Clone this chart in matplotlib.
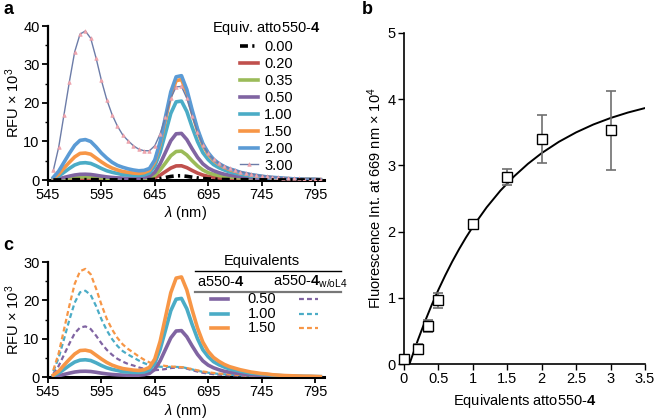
import matplotlib
matplotlib.use("Agg")
import matplotlib.pyplot as plt
from matplotlib.lines import Line2D
from matplotlib.ticker import MultipleLocator

plt.rcParams['font.family'] = ['Liberation Sans', 'DejaVu Sans']
plt.rcParams['mathtext.fontset'] = 'custom'
plt.rcParams['mathtext.rm'] = 'Liberation Sans'
plt.rcParams['mathtext.it'] = 'Liberation Sans:italic'
plt.rcParams['mathtext.bf'] = 'Liberation Sans:bold'

# ---------------- data ----------------
wavelength = [550, 555, 560, 565, 570, 575, 580, 585, 590, 595, 600, 605, 610, 615, 620, 625,
              630, 635, 640, 645, 650, 655, 660, 665, 670, 675, 680, 685, 690, 695, 700, 705,
              710, 715, 720, 725, 730, 735, 740, 745, 750, 755, 760, 765, 770, 775, 780, 785,
              790, 795, 800]

eq_000 = [0.01, 0.02, 0.04, 0.07, 0.09, 0.1, 0.1, 0.1, 0.08, 0.07, 0.05, 0.04, 0.04, 0.03, 0.03, 0.03,
          0.04, 0.05, 0.08, 0.18, 0.37, 0.65, 0.92, 1.09, 1.1, 0.95, 0.73, 0.53, 0.38, 0.28, 0.21, 0.17,
          0.13, 0.11, 0.09, 0.08, 0.07, 0.05, 0.04, 0.04, 0.03, 0.02, 0.02, 0.02, 0.01, 0.01, 0.01, 0.01,
          0.01, 0.0, 0.0]
eq_020 = [0.02, 0.08, 0.15, 0.23, 0.3, 0.34, 0.35, 0.33, 0.29, 0.23, 0.19, 0.15, 0.13, 0.12, 0.11, 0.12,
          0.12, 0.17, 0.27, 0.6, 1.26, 2.18, 3.1, 3.66, 3.69, 3.21, 2.47, 1.8, 1.28, 0.94, 0.72, 0.57,
          0.45, 0.38, 0.32, 0.27, 0.22, 0.18, 0.15, 0.13, 0.1, 0.08, 0.07, 0.06, 0.05, 0.04, 0.03, 0.03,
          0.02, 0.02, 0.02]
eq_035 = [0.05, 0.18, 0.35, 0.53, 0.69, 0.78, 0.8, 0.76, 0.66, 0.54, 0.43, 0.35, 0.31, 0.27, 0.26, 0.26,
          0.26, 0.36, 0.56, 1.2, 2.6, 4.4, 6.3, 7.4, 7.5, 6.5, 5.0, 3.65, 2.6, 1.9, 1.46, 1.16,
          0.92, 0.77, 0.66, 0.54, 0.45, 0.37, 0.31, 0.26, 0.21, 0.17, 0.14, 0.12, 0.1, 0.08, 0.06, 0.05,
          0.05, 0.04, 0.03]
eq_050 = [0.1, 0.33, 0.66, 1.0, 1.3, 1.47, 1.5, 1.43, 1.23, 1.0, 0.81, 0.66, 0.56, 0.5, 0.46, 0.46,
          0.47, 0.6, 0.93, 2.0, 4.2, 7.2, 10.2, 12.0, 12.1, 10.5, 8.1, 5.9, 4.2, 3.1, 2.4, 1.9,
          1.5, 1.25, 1.06, 0.88, 0.72, 0.6, 0.5, 0.42, 0.35, 0.28, 0.23, 0.19, 0.16, 0.13, 0.11, 0.09,
          0.08, 0.06, 0.05]
eq_100 = [0.3, 1.0, 2.0, 3.0, 3.9, 4.4, 4.5, 4.3, 3.7, 3.0, 2.4, 2.0, 1.7, 1.4, 1.3, 1.2,
          1.2, 1.3, 1.8, 3.6, 7.2, 12.2, 17.3, 20.3, 20.5, 17.8, 13.7, 10.0, 7.1, 5.3, 4.0, 3.2,
          2.6, 2.1, 1.8, 1.5, 1.25, 1.0, 0.9, 0.7, 0.6, 0.5, 0.4, 0.33, 0.27, 0.22, 0.18, 0.16,
          0.14, 0.11, 0.09]
eq_150 = [0.5, 1.5, 3.1, 4.6, 6.0, 6.9, 7.0, 6.7, 5.7, 4.7, 3.8, 3.1, 2.6, 2.2, 2.0, 1.8,
          1.7, 1.9, 2.5, 4.7, 9.3, 15.6, 22.0, 25.8, 26.1, 22.7, 17.5, 12.8, 9.1, 6.7, 5.1, 4.1,
          3.3, 2.7, 2.3, 1.9, 1.6, 1.3, 1.1, 0.9, 0.8, 0.6, 0.5, 0.4, 0.35, 0.3, 0.25, 0.2,
          0.2, 0.15, 0.1]
eq_200 = [0.7, 2.3, 4.6, 6.9, 9.0, 10.3, 10.5, 10.0, 8.6, 7.0, 5.7, 4.6, 3.8, 3.3, 2.9, 2.6,
          2.4, 2.5, 3.0, 5.2, 9.9, 16.4, 22.9, 26.8, 27.1, 23.5, 18.2, 13.3, 9.5, 7.1, 5.4, 4.3,
          3.5, 2.9, 2.5, 2.0, 1.7, 1.4, 1.2, 1.0, 0.8, 0.7, 0.6, 0.5, 0.4, 0.3, 0.3, 0.2,
          0.2, 0.2, 0.1]
eq_300 = [2.5, 8.5, 17.0, 25.5, 33.3, 37.9, 38.7, 36.8, 31.7, 25.9, 20.9, 17.0, 14.0, 11.7, 10.2, 8.9,
          8.0, 7.6, 7.6, 8.9, 12.0, 16.3, 21.2, 24.2, 24.3, 21.2, 16.6, 12.5, 9.1, 6.9, 5.4, 4.4,
          3.6, 3.0, 2.6, 2.2, 1.8, 1.6, 1.3, 1.1, 1.0, 0.8, 0.7, 0.6, 0.5, 0.4, 0.4, 0.3,
          0.3, 0.2, 0.2]

# panel c: without L4 (dashed)
woL4_050 = [0.86, 2.9, 5.8, 8.7, 11.4, 12.9, 13.2, 12.5, 10.8, 8.8, 7.1, 5.8, 4.75, 4.0, 3.4, 3.0,
            2.5, 2.15, 1.86, 1.78, 1.88, 2.07, 2.33, 2.46, 2.45, 2.18, 1.78, 1.41, 1.1, 0.9, 0.74, 0.62,
            0.53, 0.45, 0.39, 0.33, 0.29, 0.24, 0.21, 0.19, 0.17, 0.15, 0.13, 0.11, 0.1, 0.08, 0.08, 0.06,
            0.06, 0.05, 0.04]
woL4_100 = [1.5, 5.0, 9.9, 14.9, 19.4, 22.1, 22.5, 21.4, 18.5, 15.1, 12.2, 9.9, 8.1, 6.75, 5.85, 5.07,
            4.3, 3.62, 3.08, 2.79, 2.68, 2.6, 2.64, 2.62, 2.57, 2.32, 1.98, 1.64, 1.33, 1.12, 0.94, 0.81,
            0.7, 0.6, 0.52, 0.45, 0.39, 0.35, 0.29, 0.27, 0.25, 0.21, 0.19, 0.16, 0.14, 0.12, 0.12, 0.09,
            0.09, 0.07, 0.07]
woL4_150 = [1.8, 6.2, 12.4, 18.6, 24.3, 27.6, 28.2, 26.8, 23.1, 18.9, 15.2, 12.4, 10.2, 8.5, 7.3, 6.35,
            5.36, 4.51, 3.81, 3.4, 3.13, 2.88, 2.76, 2.64, 2.58, 2.34, 2.04, 1.74, 1.44, 1.24, 1.06, 0.92,
            0.8, 0.69, 0.6, 0.51, 0.46, 0.4, 0.34, 0.31, 0.28, 0.26, 0.23, 0.2, 0.17, 0.14, 0.14, 0.11,
            0.11, 0.09, 0.09]

# panel b: titration
equiv = [0, 0.2, 0.35, 0.5, 1.0, 1.5, 2.0, 3.0]
fl669 = [0.07, 0.23, 0.57, 0.96, 2.11, 2.83, 3.40, 3.53]
fl669_err = [0.03, 0.07, 0.09, 0.12, 0.06, 0.12, 0.36, 0.60]
fit_x = [0.08, 0.1, 0.2, 0.3, 0.4, 0.5, 0.6, 0.7, 0.8, 0.9, 1.0, 1.2, 1.4, 1.6, 1.8, 2.0,
         2.25, 2.5, 2.75, 3.0, 3.25, 3.5]
fit_y = [0.0, 0.062, 0.357, 0.631, 0.886, 1.122, 1.341, 1.546, 1.735, 1.911, 2.074, 2.366,
         2.619, 2.836, 3.024, 3.186, 3.357, 3.499, 3.618, 3.716, 3.798, 3.866]

labels_a = ['0.00', '0.20', '0.35', '0.50', '1.00', '1.50', '2.00', '3.00']
labels_c = ['0.50', '1.00', '1.50']

# ---------------- figure ----------------
W, H = 654, 419
fig = plt.figure(figsize=(W / 100, H / 100), dpi=100)

def fx(x):
    return x / W

def fy(y):
    return 1 - y / H

RED, GREEN, PURPLE, TEAL, ORANGE, BLUE = '#c0504d', '#9bbb59', '#8064a2', '#4bacc6', '#f79646', '#5b9bd5'
FS = 10.5

def style_spec_axes(ax, ymax, ystep):
    for s in ['top', 'right']:
        ax.spines[s].set_visible(False)
    ax.spines['bottom'].set_linewidth(2.2)
    ax.spines['left'].set_linewidth(1.6)
    ax.set_xlim(545, 803)
    ax.set_ylim(0, ymax)
    ax.set_xticks([545, 595, 645, 695, 745, 795])
    ax.set_yticks(list(range(0, ymax + 1, ystep)))
    ax.yaxis.set_minor_locator(MultipleLocator(5))
    ax.tick_params(axis='both', which='major', direction='out', length=4, width=1.3, labelsize=FS, pad=2)
    ax.tick_params(axis='y', which='minor', direction='out', length=2.5, width=1.0)
    ax.set_xlabel(r'$\mathit{\lambda}$ (nm)', fontsize=FS)
    ax.set_ylabel(r'RFU $\times$ 10$^{3}$', fontsize=FS)

# ----- panel a -----
axa = fig.add_axes([fx(48), fy(180), fx(323.5) - fx(48), fy(26) - fy(180)])
style_spec_axes(axa, 40, 10)
series_a = [eq_000, eq_020, eq_035, eq_050, eq_100, eq_150, eq_200]
colors_a = ['black', RED, GREEN, PURPLE, TEAL, ORANGE, BLUE]
handles = []
for i, (s, c) in enumerate(zip(series_a, colors_a)):
    if i == 0:
        h, = axa.plot(wavelength, s, color=c, lw=2.6, ls=(0, (2.2, 1.2, 0.6, 1.2)), zorder=10,
                      label=labels_a[i])
    else:
        h, = axa.plot(wavelength, s, color=c, lw=2.6, zorder=3 + i, label=labels_a[i])
    handles.append(h)
h300, = axa.plot(wavelength, eq_300, color='#6c7ca8', lw=1.0, marker='^', ms=2.6,
                 mfc='#f2a6ae', mec='#e89aa4', mew=0.4, zorder=9, label=labels_a[7])
handles.append(h300)
leg = axa.legend(handles=handles, loc='upper right', bbox_to_anchor=(fx(331), fy(9)),
                 bbox_transform=fig.transFigure, frameon=False, fontsize=FS,
                 title=r'Equiv. atto550-$\mathbf{4}$', title_fontsize=FS,
                 handlelength=1.2, handletextpad=0.45, labelspacing=0.2, borderpad=0.2,
                 numpoints=1)
axa.xaxis.set_label_coords(0.5, -0.155)
axa.yaxis.set_label_coords(-0.095, 0.5)

# ----- panel c -----
axc = fig.add_axes([fx(48), fy(377), fx(323.5) - fx(48), fy(262) - fy(377)])
style_spec_axes(axc, 30, 10)
solid_c = [eq_050, eq_100, eq_150]
dash_c = [woL4_050, woL4_100, woL4_150]
colors_c = [PURPLE, TEAL, ORANGE]
for s, c in zip(dash_c, colors_c):
    axc.plot(wavelength, s, color=c, lw=1.6, ls=(0, (2.2, 1.4)), zorder=3)
for s, c in zip(solid_c, colors_c):
    axc.plot(wavelength, s, color=c, lw=2.6, zorder=4)
axc.xaxis.set_label_coords(0.5, -0.215)
axc.yaxis.set_label_coords(-0.095, 0.5)

# custom table legend for panel c
fig.text(fx(262), fy(261), 'Equivalents', ha='center', va='center', fontsize=FS)
fig.add_artist(Line2D([fx(195), fx(341)], [fy(271), fy(271)], color='black', lw=1.0))
fig.text(fx(197), fy(282), r'a550-$\mathbf{4}$', ha='left', va='center', fontsize=FS)
fig.text(fx(273), fy(282), r'a550-$\mathbf{4}_{\mathrm{w/oL4}}$', ha='left', va='center', fontsize=FS)
fig.add_artist(Line2D([fx(195), fx(341)], [fy(292), fy(292)], color='#777777', lw=1.6))
for j, (lab, c) in enumerate(zip(labels_c, colors_c)):
    yy = fy(299 + j * 14.5)
    fig.add_artist(Line2D([fx(211), fx(228)], [yy, yy], color=c, lw=2.6))
    fig.text(fx(262), yy, lab, ha='center', va='center', fontsize=FS)
    fig.add_artist(Line2D([fx(299), fx(318)], [yy, yy], color=c, lw=1.6, ls=(0, (2.2, 1.4))))

# ----- panel b -----
axb = fig.add_axes([fx(404), fy(364), fx(645) - fx(404), fy(33) - fy(364)])
for s in ['top', 'right']:
    axb.spines[s].set_visible(False)
for s in ['bottom', 'left']:
    axb.spines[s].set_linewidth(1.2)
axb.set_xlim(0, 3.5)
axb.set_ylim(0, 5)
axb.set_xticks([0, 0.5, 1, 1.5, 2, 2.5, 3, 3.5])
axb.set_xticklabels(['0', '0.5', '1', '1.5', '2', '2.5', '3', '3.5'])
axb.set_yticks([0, 1, 2, 3, 4, 5])
axb.tick_params(axis='both', direction='out', length=4, width=1.0, labelsize=FS, pad=2)
axb.plot(fit_x, fit_y, color='black', lw=1.4, zorder=3)
axb.errorbar(equiv, fl669, yerr=fl669_err, fmt='none', ecolor='#707070', elinewidth=1.2,
             capsize=3.5, capthick=1.2, zorder=4, clip_on=False)
axb.plot(equiv, fl669, ls='none', marker='s', ms=7, mfc='white', mec='black', mew=1.0,
         zorder=5, clip_on=False)
axb.set_xlabel(r'Equivalents atto550-$\mathbf{4}$', fontsize=FS, labelpad=4)
axb.set_ylabel(r'Fluorescence Int. at 669 nm $\times$ 10$^{4}$', fontsize=FS)
axb.yaxis.set_label_coords(-0.085, 0.5)

# panel letters
fig.text(fx(3), fy(10), 'a', fontsize=13, fontweight='bold', va='center', ha='left')
fig.text(fx(362), fy(10), 'b', fontsize=13, fontweight='bold', va='center', ha='left')
fig.text(fx(3), fy(245), 'c', fontsize=13, fontweight='bold', va='center', ha='left')

fig.savefig('out.png', dpi=100)
